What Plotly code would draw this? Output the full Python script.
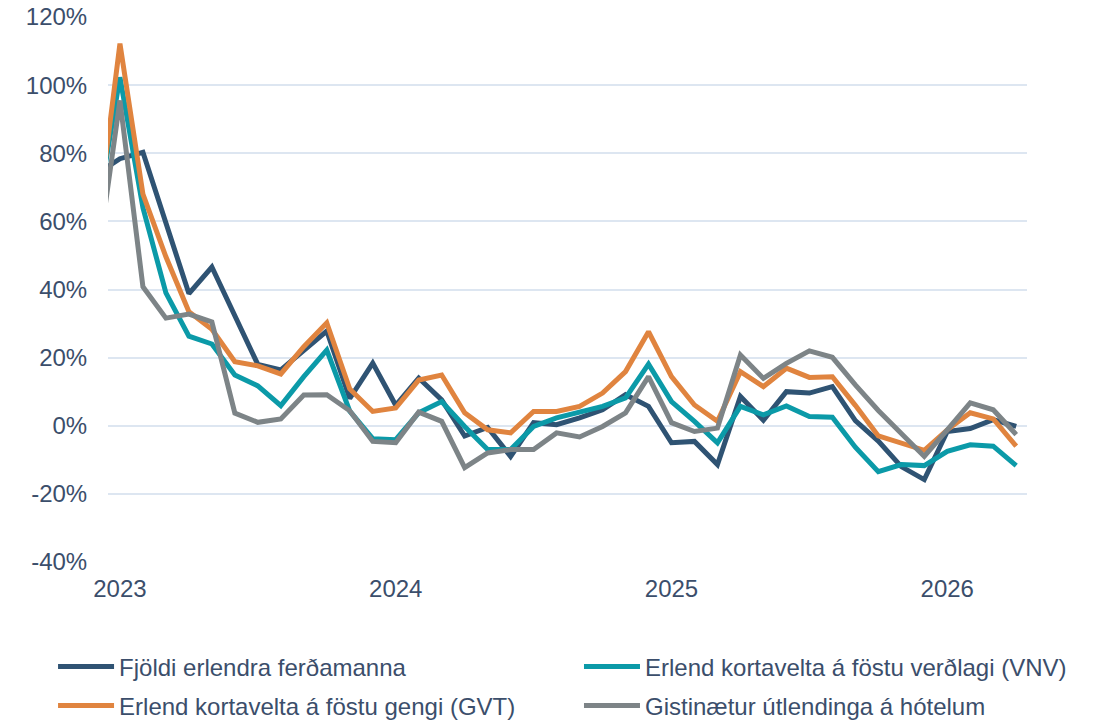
import pandas as pd
import plotly.graph_objects as go

# Monthly categories (Dec 2022 - Apr 2026)
months = list(pd.period_range("2022-12", "2026-04", freq="M").strftime("%Y-%m"))

tick_vals = ["2023-01", "2024-01", "2025-01", "2026-01"]
tick_text = ["2023", "2024", "2025", "2026"]

y_tick_vals = [-40, -20, 0, 20, 40, 60, 80, 100, 120]
y_tick_text = ["-40%", "-20%", "0%", "20%", "40%", "60%", "80%", "100%", "120%"]

fjoldi = [74, 78.4, 80.3, 59, 38.8, 46.6, 32, 18, 16.4, 22.2, 27.8, 8, 18.4, 6, 14,
          7.6, -3, -0.5, -9, 0.9, 0.3, 2.3, 4.7, 9.1, 5.7, -5, -4.6, -11.4, 8.6, 1.6,
          10, 9.6, 11.5, 1.5, -4.5, -12, -15.8, -1.7, -0.8, 1.8, -0.2]
vnv = [62, 102.3, 64, 39, 26.3, 24, 14.9, 11.7, 5.9, 14.4, 22.2, 4.3, -3.8, -4.1, 3.8,
       7.1, -0.2, -7, -7, -0.2, 2.3, 4, 5.7, 8.2, 18.1, 7.1, 1.3, -5, 5.7, 3.2,
       5.8, 2.7, 2.5, -6.3, -13.5, -11.4, -11.7, -7.5, -5.6, -6, -11.7]
gvt = [58.5, 112.2, 68, 49.6, 33.5, 28.3, 18.8, 17.6, 15.2, 23.2, 30.2, 10.8, 4.2, 5.2, 13.4,
       14.9, 3.8, -1.2, -2.1, 4.2, 4.2, 5.7, 9.6, 15.9, 27.6, 14.4, 6.1, 1.3, 15.9, 11.5,
       16.9, 14.2, 14.4, 6, -3, -5, -7.2, -1.2, 3.8, 2, -6]
gisti = [47.5, 95.5, 40.8, 31.6, 32.8, 30.5, 3.7, 1, 2, 9, 9.1, 4.4, -4.6, -5, 4,
         1.3, -12.3, -8, -7, -7, -2.1, -3.3, -0.2, 3.8, 14.4, 0.9, -1.7, -0.7, 20.8, 13.9,
         18.3, 22, 20.1, 12, 4.5, -2.5, -9, -1.2, 6.7, 4.7, -2.6]

names = ["Fjöldi erlendra ferðamanna",
         "Erlend kortavelta á föstu verðlagi (VNV)",
         "Erlend kortavelta á föstu gengi (GVT)",
         "Gistinætur útlendinga á hótelum"]
colors = ["#2f5373", "#0b9aa8", "#e0843f", "#7d8487"]
legend_ids = ["legend", "legend2", "legend3", "legend4"]
# legend anchor positions (paper coords): two columns, two rows
legend_x = [-0.0598, 0.5125, -0.0598, 0.5125]
legend_y = [-0.1927, -0.1927, -0.2642, -0.2642]

FONT = "Arial, Liberation Sans, sans-serif"
TXT = "#3b4e6b"

fig = go.Figure()
for name, vals, col, lg in zip(names, [fjoldi, vnv, gvt, gisti], colors, legend_ids):
    fig.add_trace(go.Scatter(
        x=months, y=vals, mode="lines", name=name,
        line=dict(color=col, width=5), legend=lg,
    ))

layout_legends = {}
for lg, lx, ly in zip(legend_ids, legend_x, legend_y):
    layout_legends[lg] = dict(
        x=lx, y=ly, xanchor="left", yanchor="middle", orientation="h",
        font=dict(family=FONT, size=24, color=TXT),
        itemwidth=56, bgcolor="rgba(0,0,0,0)", borderwidth=0,
    )

fig.update_layout(
    width=1094, height=722,
    margin=dict(l=108, r=67, t=17, b=160, autoexpand=False),
    paper_bgcolor="white", plot_bgcolor="white",
    font=dict(family=FONT, size=24, color=TXT),
    showlegend=True,
    **layout_legends,
    xaxis=dict(
        type="category", categoryorder="array", categoryarray=months,
        range=[0.48, 40.47], automargin=False,
        tickmode="array", tickvals=tick_vals, ticktext=tick_text,
        showgrid=False, zeroline=False, showline=False,
        ticks="outside", ticklen=5, tickcolor="rgba(0,0,0,0)",
        tickfont=dict(family=FONT, size=24, color=TXT),
    ),
    yaxis=dict(
        range=[-40, 120], automargin=False,
        tickmode="array", tickvals=y_tick_vals, ticktext=y_tick_text,
        ticklabeloverflow="allow",
        showgrid=True, gridcolor="#dde6f1", gridwidth=2,
        zeroline=False, showline=False,
        ticks="outside", ticklen=15, tickcolor="rgba(0,0,0,0)",
        tickfont=dict(family=FONT, size=24, color=TXT),
    ),
)

# remove the browser's default 8px body margin so the figure fills the window
fig.write_html("out.html", config={"displayModeBar": False},
               post_script="document.body.style.margin='0';")
